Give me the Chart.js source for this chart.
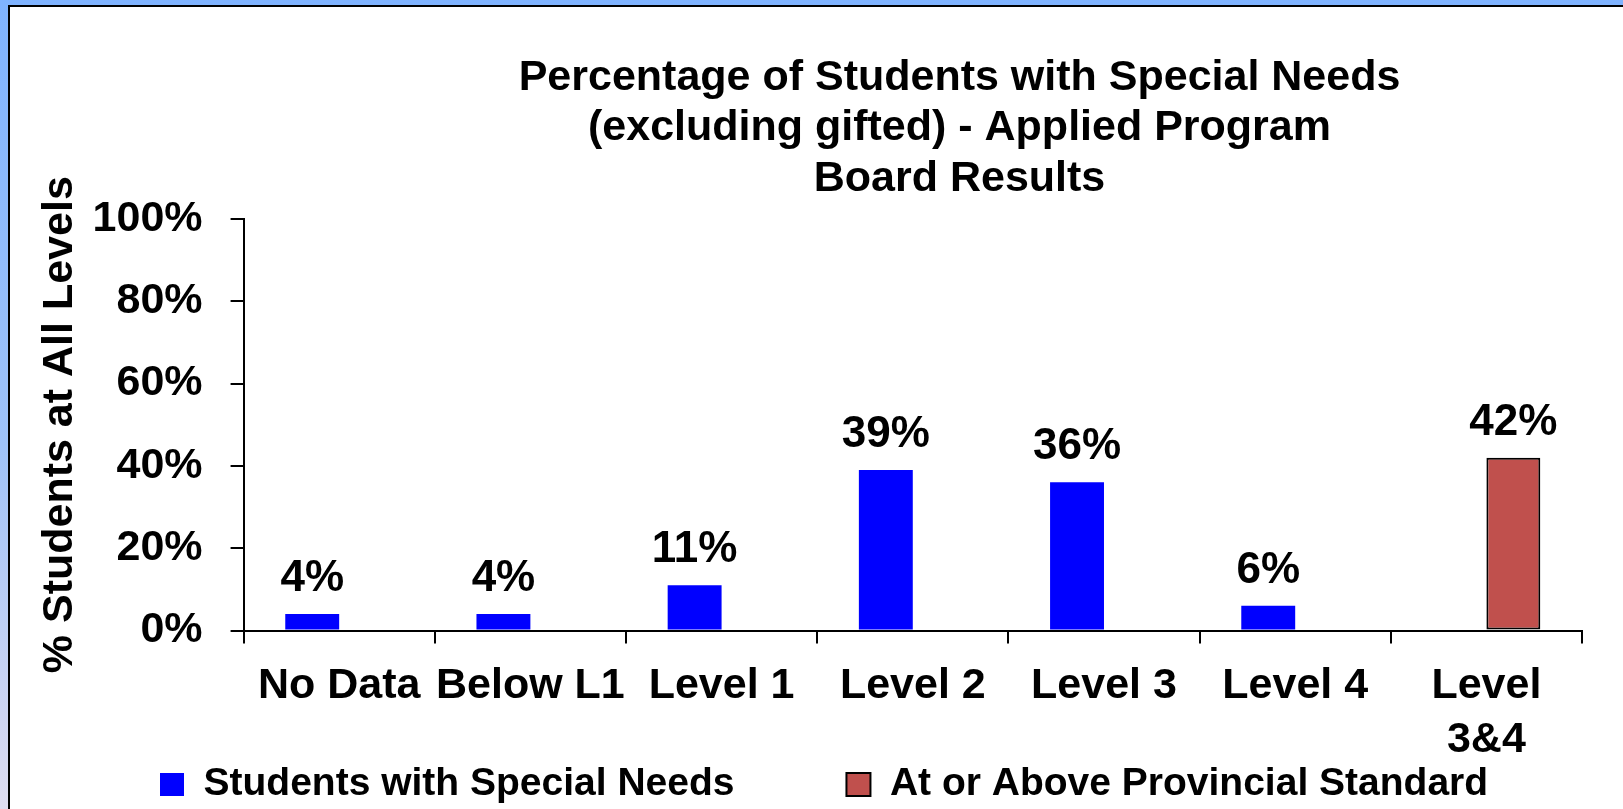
<!DOCTYPE html>
<html>
<head>
<meta charset="utf-8">
<title>Percentage of Students with Special Needs</title>
<script src="https://cdn.jsdelivr.net/npm/chart.js@4"></script>
<style>
  html, body { margin: 0; height: 100%; overflow: hidden; }
  body { background: linear-gradient(#7fb3ff 0%, #9fc2f8 55%, #dedcf0 100%); }
  #panel {
    position: absolute; left: 8px; top: 5px; width: 1700px; height: 900px;
    background: #fff; border-left: 2px solid #000; border-top: 2px solid #000;
  }
  #wrap { position: absolute; left: 10px; top: 7px; width: 1613px; height: 825px; }
</style>
</head>
<body>
<div id="panel"></div>
<div id="wrap"><canvas id="chart"></canvas></div>
<script>
// data
const categories = ['No Data', 'Below L1', 'Level 1', 'Level 2', 'Level 3', 'Level 4', ['Level', '3&4']];
const specialNeeds = [4, 4, 11, 39, 36, 6, null];
const provincialStd = [null, null, null, null, null, null, 42];
const yTickLabels = ['0%', '20%', '40%', '60%', '80%', '100%'];

const legendGap = 112;

Chart.defaults.font.family = '"Liberation Sans", Arial, sans-serif';
Chart.defaults.font.weight = 'bold';
Chart.defaults.color = '#000';

// value labels above bars
const barLabels = {
    id: 'barLabels',
    afterDatasetsDraw(chart) {
        const ctx = chart.ctx;
        ctx.save();
        ctx.font = 'bold 44px "Liberation Sans", Arial, sans-serif';
        ctx.fillStyle = '#000';
        ctx.textAlign = 'center';
        ctx.textBaseline = 'alphabetic';
        chart.data.datasets.forEach((ds, i) => {
            chart.getDatasetMeta(i).data.forEach((bar, j) => {
                if (ds.data[j] == null) return;
                ctx.fillText(ds.data[j] + '%', bar.x, bar.y - 23);
            });
        });
        ctx.restore();
    }
};

// title sits right of centre; legend uses a wide gap but keeps a short box
const nudge = {
    id: 'nudge',
    afterLayout(chart) {
        chart.titleBlock.left += 161;
        chart.titleBlock.right += 161;
        const lg = chart.legend;
        lg.left += 33;
        lg.right += 33;
        lg.top -= 130;
    }
};

new Chart(document.getElementById('chart'), {
    type: 'bar',
    data: {
        labels: categories,
        datasets: [{
            label: 'Students with Special Needs',
            data: specialNeeds,
            backgroundColor: '#0000ff',
            borderWidth: 0
        }, {
            label: 'At or Above Provincial Standard',
            data: provincialStd,
            backgroundColor: '#c0504d',
            borderColor: '#000',
            borderWidth: 2,
            borderSkipped: false
        }]
    },
    options: {
        responsive: true,
        maintainAspectRatio: false,
        animation: false,
        categoryPercentage: 0.564,
        barPercentage: 1,
        layout: { padding: { left: 5, right: 41, top: 0, bottom: 0 } },
        plugins: {
            title: {
                display: true,
                text: ['Percentage of Students with Special Needs', '(excluding gifted) - Applied Program', 'Board Results'],
                font: { size: 43, weight: 'bold', lineHeight: 1.17 },
                padding: { top: 46, bottom: 15 },
                color: '#000'
            },
            legend: {
                position: 'bottom',
                align: 'start',
                maxHeight: 49,
                labels: {
                    font: { size: 39, weight: 'bold' },
                    boxWidth: 24,
                    boxHeight: 23,
                    padding: legendGap,
                    color: '#000'
                }
            },
            tooltip: { enabled: false }
        },
        scales: {
            x: {
                grid: { drawOnChartArea: false, tickLength: 13, color: '#000', lineWidth: 2 },
                border: { color: '#000', width: 2 },
                ticks: {
                    font: { size: 43, weight: 'bold', lineHeight: 1.25 },
                    padding: 16,
                    maxRotation: 0,
                    autoSkip: false
                }
            },
            y: {
                min: 0,
                max: 100,
                grid: { drawOnChartArea: false, tickLength: 13, color: '#000', lineWidth: 2 },
                border: { color: '#000', width: 2 },
                ticks: {
                    stepSize: 20,
                    padding: 28,
                    font: { size: 43, weight: 'bold' },
                    callback: (v, i) => yTickLabels[i]
                },
                title: {
                    display: true,
                    text: '% Students at All Levels',
                    font: { size: 43, weight: 'bold', lineHeight: 1.2 },
                    padding: { top: 19, bottom: -21 }
                }
            }
        }
    },
    plugins: [barLabels, nudge]
});
</script>
</body>
</html>
